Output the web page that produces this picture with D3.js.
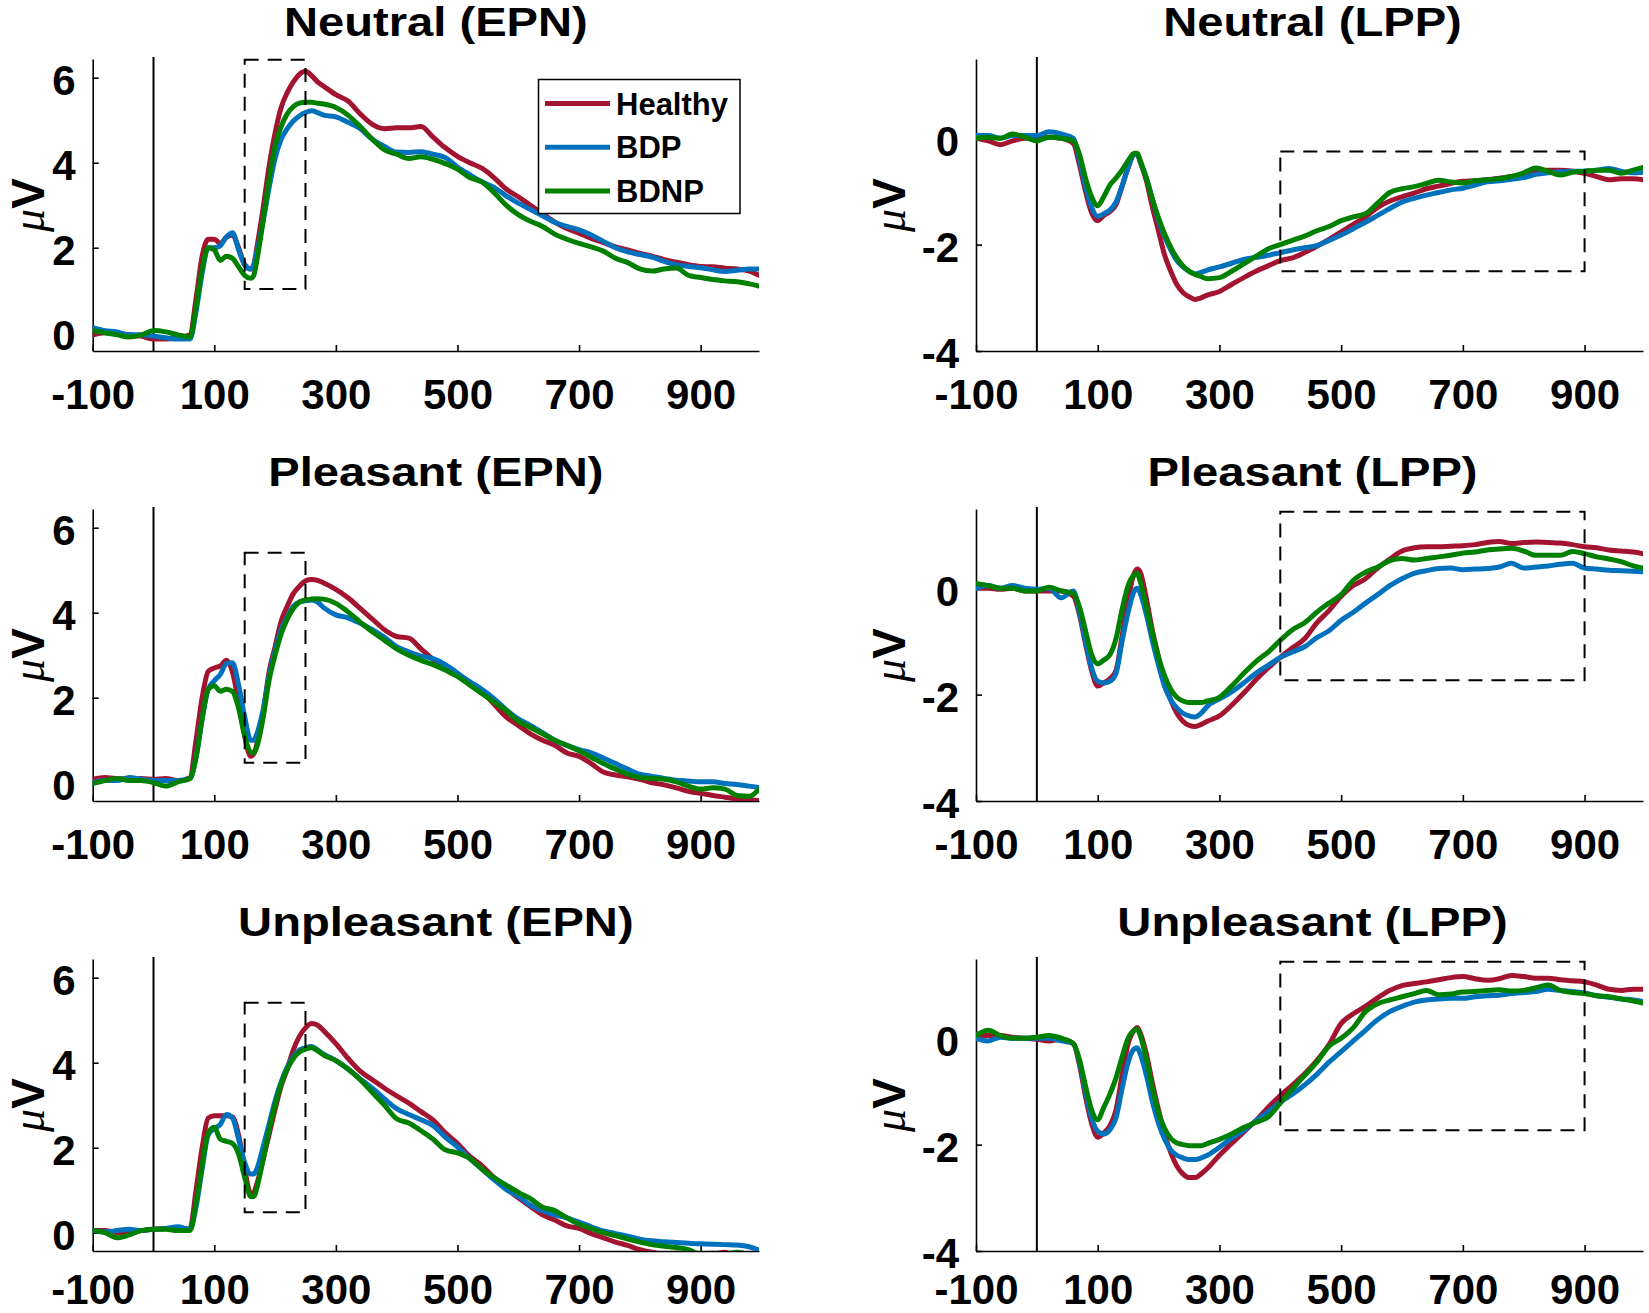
<!DOCTYPE html>
<html><head><meta charset="utf-8">
<script src="https://cdn.jsdelivr.net/npm/d3@7"></script>
<style>
body{margin:0;background:#fff}
svg{display:block;background:#fff}
text{font-family:"Liberation Sans",Arial,Helvetica,sans-serif;font-weight:bold;fill:#000}
.tick text{font-size:42px}
</style>
</head><body>
<svg id="c" width="1649" height="1313"></svg>
<script>
// ---------------- data ----------------
const time = [-100,-80,-60,-40,-20,0,20,40,60,70,80,90,100,110,120,130,140,150,160,165,170,180,190,200,210,220,230,240,250,260,270,280,300,320,340,360,380,400,420,440,460,480,500,520,540,560,580,600,620,640,660,680,700,720,740,760,780,800,820,840,860,880,900,920,940,960,980,996];

const groups = ["Healthy","BDP","BDNP"];
const groupColors = ["#A2142F","#0072BD","#008000"];

const xTickValues = [-100,100,300,500,700,900];
const epnTickValues = [0,2,4,6];
const lppTickValues = [-4,-2,0];
const epnRange = [-0.43, 6.44];
const lppRange = [-4, 1.49];
const timeRange = [-100, 996];

// Neutral (EPN)
const neutralEPN_healthy = [-0.05,0.0,-0.02,-0.05,-0.08,-0.15, -0.15,-0.12,-0.05, 0.8,1.8,2.2,2.2,2.1,2.25,2.3,2.0,1.6,1.5, 1.6, 2.0,2.9,3.9,4.7,5.3,5.65,5.9,6.08,6.15,6.05,5.9,5.8, 5.6,5.45,5.15,4.9,4.8,4.82,4.82,4.85,4.6,4.35, 4.15,4.0,3.87,3.65,3.38,3.2,3.0,2.8,2.6,2.45, 2.34,2.22,2.12,2.02,1.95,1.87,1.8,1.72,1.66,1.6, 1.56,1.55,1.52,1.5,1.45, 1.35];
const neutralEPN_bdp = [0.12,0.05,0.02,-0.05,-0.05,-0.08, -0.12,-0.15,-0.15, 0.5,1.4,2.0,2.0,2.05,2.25,2.35,1.95,1.6,1.5, 1.6, 1.9,2.6,3.4,4.1,4.55,4.8,4.98,5.1,5.18,5.22,5.18,5.12, 5.08,4.95,4.8,4.55,4.38,4.25,4.24,4.26,4.2,4.12, 3.9,3.72,3.55,3.42,3.22,3.05,2.9,2.75,2.6,2.5, 2.42,2.3,2.15,2.0,1.9,1.84,1.78,1.68,1.6,1.56, 1.53,1.48,1.44,1.47,1.5, 1.5];
const neutralEPN_bdnp = [0.05,0.0,-0.05,-0.1,-0.05,0.05, 0.02,-0.05,-0.1, 0.6,1.5,2.0,1.95,1.7,1.8,1.75,1.55,1.35,1.28, 1.35, 1.7,2.6,3.6,4.4,4.85,5.15,5.32,5.4,5.42,5.42,5.4,5.38, 5.3,5.12,4.85,4.55,4.3,4.2,4.1,4.14,4.08,3.98, 3.85,3.65,3.55,3.3,3.0,2.78,2.62,2.5,2.32,2.2, 2.1,2.02,1.92,1.75,1.65,1.5,1.45,1.5,1.52,1.35, 1.3,1.25,1.22,1.2,1.15, 1.1];

// Neutral (LPP)
const neutralLPP_healthy = [0.0,-0.05,-0.12,-0.05,0.0,0.0, 0.02,0.0,-0.1, -0.5,-1.0,-1.4,-1.55,-1.45,-1.38,-1.25,-0.9,-0.55,-0.3, -0.3, -0.45,-0.8,-1.3,-1.75,-2.2,-2.5,-2.75,-2.9,-2.98,-3.03,-3.0,-2.95, -2.88,-2.75,-2.62,-2.5,-2.4,-2.3,-2.25,-2.15,-2.03,-1.9, -1.76,-1.62,-1.48,-1.3,-1.18,-1.1,-1.03,-0.95,-0.9,-0.85, -0.81,-0.8,-0.78,-0.75,-0.72,-0.68,-0.62,-0.6,-0.6,-0.62, -0.66,-0.72,-0.78,-0.76,-0.76, -0.78];
const neutralLPP_bdp = [0.05,0.05,0.0,0.05,0.05,0.05, 0.12,0.08,0.0, -0.4,-0.9,-1.3,-1.47,-1.42,-1.35,-1.2,-0.9,-0.55,-0.3, -0.3, -0.45,-0.75,-1.15,-1.55,-1.85,-2.1,-2.3,-2.42,-2.5,-2.55,-2.52,-2.48, -2.42,-2.35,-2.28,-2.24,-2.2,-2.15,-2.1,-2.06,-2.02,-1.92, -1.82,-1.7,-1.58,-1.45,-1.32,-1.2,-1.13,-1.07,-1.02,-0.97, -0.94,-0.88,-0.82,-0.8,-0.77,-0.74,-0.68,-0.65,-0.63,-0.62, -0.62,-0.6,-0.57,-0.62,-0.65, -0.64];
const neutralLPP_bdnp = [0.0,0.02,0.0,0.08,0.02,-0.05, 0.02,0.0,-0.05, -0.3,-0.75,-1.1,-1.27,-1.1,-0.88,-0.75,-0.6,-0.42,-0.28, -0.28, -0.42,-0.75,-1.15,-1.5,-1.8,-2.05,-2.25,-2.4,-2.5,-2.56,-2.6,-2.64, -2.62,-2.5,-2.36,-2.22,-2.08,-2.0,-1.92,-1.84,-1.74,-1.66, -1.55,-1.48,-1.42,-1.22,-1.02,-0.95,-0.91,-0.85,-0.79,-0.82, -0.84,-0.8,-0.78,-0.76,-0.72,-0.65,-0.56,-0.62,-0.69,-0.64, -0.62,-0.6,-0.6,-0.66,-0.6, -0.55];

// Pleasant (EPN)
const pleasantEPN_healthy = [0.08,0.12,0.1,0.08,0.1,0.08, 0.1,0.05,0.12, 1.0,2.0,2.62,2.7,2.75,2.88,2.6,1.9,1.1,0.62, 0.68, 0.9,1.6,2.6,3.2,3.8,4.15,4.45,4.62,4.75,4.78,4.76,4.7, 4.55,4.35,4.1,3.85,3.6,3.44,3.4,3.15,2.9,2.7, 2.52,2.35,2.15,1.85,1.55,1.35,1.15,1.0,0.88,0.7, 0.62,0.45,0.25,0.18,0.14,0.08,0.0,-0.05,-0.12,-0.2, -0.25,-0.3,-0.34,-0.38,-0.4, -0.42];
const pleasantEPN_bdp = [0.0,0.05,0.05,0.12,0.08,0.05, 0.05,0.05,0.1, 0.6,1.5,2.2,2.4,2.55,2.8,2.82,2.3,1.55,1.0, 1.0, 1.15,1.7,2.5,3.1,3.6,3.9,4.15,4.25,4.28,4.3,4.25,4.12, 3.95,3.88,3.75,3.6,3.42,3.2,3.08,2.98,2.92,2.78, 2.58,2.38,2.2,1.98,1.72,1.5,1.35,1.18,1.0,0.88, 0.78,0.7,0.58,0.45,0.32,0.2,0.15,0.1,0.06,0.04, 0.02,0.02,-0.02,-0.04,-0.08, -0.11];
const pleasantEPN_bdnp = [-0.02,0.05,0.1,0.05,0.05,0.0, -0.08,0.02,0.1, 0.6,1.5,2.2,2.28,2.15,2.2,2.15,1.75,1.1,0.72, 0.7, 0.85,1.5,2.4,3.0,3.5,3.85,4.1,4.25,4.3,4.32,4.33,4.32, 4.22,4.02,3.78,3.55,3.35,3.15,3.0,2.88,2.78,2.65, 2.5,2.3,2.1,1.9,1.7,1.45,1.3,1.15,1.0,0.88, 0.75,0.6,0.45,0.32,0.2,0.12,0.1,0.08,0.02,-0.08, -0.15,-0.12,-0.15,-0.3,-0.32, -0.15];

// Pleasant (LPP)
const pleasantLPP_healthy = [0.0,0.0,-0.02,0.0,-0.05,-0.05, -0.05,-0.05,-0.15, -0.5,-1.05,-1.55,-1.84,-1.78,-1.7,-1.55,-0.9,-0.2,0.28, 0.36, 0.3,-0.2,-0.8,-1.3,-1.75,-2.1,-2.35,-2.5,-2.58,-2.6,-2.56,-2.5, -2.4,-2.2,-1.97,-1.72,-1.5,-1.3,-1.12,-0.95,-0.65,-0.42, -0.15,0.05,0.18,0.38,0.55,0.7,0.76,0.78,0.78,0.79, 0.8,0.82,0.86,0.88,0.84,0.86,0.87,0.86,0.85,0.82, 0.78,0.76,0.72,0.7,0.68, 0.65];
const pleasantLPP_bdp = [0.0,0.05,0.0,0.05,0.0,-0.02, 0.0,-0.18,-0.05, -0.45,-1.0,-1.5,-1.75,-1.78,-1.75,-1.6,-1.0,-0.45,-0.05, 0.0, -0.1,-0.5,-1.0,-1.45,-1.85,-2.1,-2.25,-2.35,-2.4,-2.42,-2.35,-2.22, -2.08,-1.95,-1.78,-1.6,-1.45,-1.3,-1.2,-1.1,-0.93,-0.8, -0.6,-0.45,-0.28,-0.12,0.05,0.18,0.28,0.33,0.37,0.38, 0.35,0.36,0.37,0.4,0.47,0.38,0.4,0.42,0.45,0.47, 0.38,0.36,0.34,0.33,0.32, 0.31];
const pleasantLPP_bdnp = [0.09,0.05,0.0,0.0,-0.05,-0.05, 0.02,-0.05,-0.1, -0.35,-0.8,-1.25,-1.42,-1.35,-1.25,-0.95,-0.4,0.05,0.25, 0.28, 0.12,-0.35,-0.85,-1.3,-1.65,-1.9,-2.05,-2.12,-2.15,-2.15,-2.15,-2.12, -2.05,-1.84,-1.6,-1.38,-1.2,-0.98,-0.78,-0.65,-0.45,-0.28, -0.12,0.15,0.3,0.4,0.52,0.56,0.53,0.56,0.59,0.62, 0.66,0.68,0.72,0.74,0.75,0.7,0.62,0.62,0.62,0.69, 0.65,0.59,0.55,0.5,0.42, 0.38];

// Unpleasant (EPN)
const unpleasantEPN_healthy = [0.05,0.05,0.0,0.02,0.05,0.08, 0.1,0.08,0.1, 1.0,2.0,2.7,2.75,2.75,2.75,2.72,2.3,1.5,0.92, 0.95, 1.15,1.7,2.3,2.9,3.45,3.85,4.3,4.62,4.82,4.92,4.88,4.75, 4.45,4.1,3.8,3.6,3.4,3.22,3.05,2.85,2.65,2.35, 2.1,1.8,1.58,1.3,1.05,0.82,0.62,0.42,0.3,0.16, 0.1,-0.02,-0.12,-0.22,-0.3,-0.4,-0.46,-0.5,-0.48,-0.5, -0.52,-0.5,-0.46,-0.55,-0.55, -0.55];
const unpleasantEPN_bdp = [0.05,0.02,0.05,0.08,0.05,0.08, 0.1,0.14,0.08, 0.6,1.5,2.3,2.45,2.55,2.78,2.7,2.2,1.65,1.38, 1.38, 1.5,2.0,2.55,3.1,3.55,3.9,4.15,4.3,4.35,4.38,4.3,4.2, 4.05,3.85,3.62,3.4,3.15,2.92,2.78,2.66,2.52,2.25, 2.02,1.75,1.5,1.25,1.02,0.86,0.65,0.52,0.42,0.35, 0.25,0.14,0.04,-0.02,-0.08,-0.15,-0.19,-0.21,-0.23,-0.25, -0.26,-0.27,-0.28,-0.29,-0.33, -0.41];
const unpleasantEPN_bdnp = [0.05,0.0,-0.12,-0.05,0.05,0.08, 0.08,0.05,0.05, 0.7,1.6,2.35,2.48,2.2,2.15,2.1,1.85,1.3,0.85, 0.85, 1.05,1.7,2.4,3.0,3.5,3.85,4.1,4.25,4.32,4.35,4.28,4.18, 4.05,3.85,3.6,3.3,3.0,2.68,2.58,2.4,2.2,1.95, 1.88,1.75,1.5,1.3,1.12,0.95,0.8,0.6,0.52,0.35, 0.2,0.1,0.0,-0.07,-0.15,-0.22,-0.28,-0.32,-0.35,-0.4, -0.5,-0.48,-0.5,-0.46,-0.5, -0.5];

// Unpleasant (LPP)
const unpleasantLPP_healthy = [0.06,0.05,0.05,0.02,0.0,-0.02, -0.05,-0.02,-0.1, -0.5,-1.1,-1.6,-1.86,-1.78,-1.65,-1.35,-0.7,-0.1,0.15, 0.2, 0.1,-0.3,-0.85,-1.35,-1.8,-2.15,-2.4,-2.55,-2.62,-2.62,-2.55,-2.45, -2.2,-1.98,-1.76,-1.55,-1.3,-1.08,-0.88,-0.67,-0.42,-0.12, 0.28,0.46,0.6,0.76,0.9,0.99,1.03,1.06,1.1,1.14, 1.16,1.12,1.09,1.12,1.18,1.16,1.13,1.13,1.1,1.08, 1.06,1.0,0.92,0.9,0.92, 0.92];
const unpleasantLPP_bdp = [0.0,-0.05,0.02,0.0,0.0,0.0, 0.0,-0.05,-0.1, -0.45,-1.0,-1.5,-1.75,-1.8,-1.72,-1.5,-0.95,-0.45,-0.2, -0.18, -0.3,-0.7,-1.2,-1.6,-1.9,-2.1,-2.2,-2.25,-2.28,-2.28,-2.25,-2.2, -2.05,-1.88,-1.73,-1.55,-1.38,-1.2,-1.05,-0.88,-0.68,-0.45, -0.25,-0.05,0.15,0.35,0.5,0.6,0.68,0.72,0.74,0.75, 0.75,0.78,0.8,0.81,0.84,0.86,0.88,0.92,0.9,0.88, 0.85,0.8,0.77,0.74,0.72, 0.69];
const unpleasantLPP_bdnp = [0.05,0.15,0.05,0.0,0.0,0.02, 0.05,0.0,-0.1, -0.4,-0.9,-1.35,-1.53,-1.3,-1.05,-0.75,-0.35,0.0,0.15, 0.17, 0.05,-0.4,-0.95,-1.4,-1.7,-1.88,-1.97,-2.0,-2.02,-2.02,-2.02,-1.98, -1.9,-1.8,-1.68,-1.58,-1.48,-1.22,-0.95,-0.7,-0.45,-0.15, 0.0,0.2,0.5,0.65,0.72,0.78,0.84,0.9,0.82,0.83, 0.87,0.88,0.9,0.91,0.89,0.9,0.95,1.0,0.9,0.86, 0.84,0.8,0.78,0.74,0.7, 0.66];

// analysis windows [t0, t1, vLow, vHigh]
const neutralEPN_window = [150, 250, 1.03, 6.42];
const pleasantEPN_window = [150, 250, 0.47, 5.41];
const unpleasantEPN_window = [150, 250, 0.48, 5.41];
const neutralLPP_window = [400, 900, -2.5, -0.25];
const pleasantLPP_window = [400, 900, -1.73, 1.44];
const unpleasantLPP_window = [400, 900, -1.73, 1.44];

const panelTitles = ["Neutral (EPN)","Neutral (LPP)","Pleasant (EPN)","Pleasant (LPP)","Unpleasant (EPN)","Unpleasant (LPP)"];

// ---------------- layout ----------------
const colX = [[92.7, 759], [976, 1643]];
const rowTop = [59, 509, 959];
const rowBottom = [351, 801, 1251];
const xLabelOffset = [58, 58, 53];

const panels = [
  {title: panelTitles[0], yd: epnRange, yt: epnTickValues, series:[neutralEPN_healthy, neutralEPN_bdp, neutralEPN_bdnp], win: neutralEPN_window, legend:true},
  {title: panelTitles[1], yd: lppRange, yt: lppTickValues, series:[neutralLPP_healthy, neutralLPP_bdp, neutralLPP_bdnp], win: neutralLPP_window},
  {title: panelTitles[2], yd: epnRange, yt: epnTickValues, series:[pleasantEPN_healthy, pleasantEPN_bdp, pleasantEPN_bdnp], win: pleasantEPN_window},
  {title: panelTitles[3], yd: lppRange, yt: lppTickValues, series:[pleasantLPP_healthy, pleasantLPP_bdp, pleasantLPP_bdnp], win: pleasantLPP_window},
  {title: panelTitles[4], yd: epnRange, yt: epnTickValues, series:[unpleasantEPN_healthy, unpleasantEPN_bdp, unpleasantEPN_bdnp], win: unpleasantEPN_window},
  {title: panelTitles[5], yd: lppRange, yt: lppTickValues, series:[unpleasantLPP_healthy, unpleasantLPP_bdp, unpleasantLPP_bdnp], win: unpleasantLPP_window},
];

const svg = d3.select("#c");
const defs = svg.append("defs");

panels.forEach((p, i) => {
  const col = i % 2, row = Math.floor(i / 2);
  const x = d3.scaleLinear().domain(timeRange).range(colX[col]);
  const y = d3.scaleLinear().domain(p.yd).range([rowBottom[row], rowTop[row]]);
  const g = svg.append("g");
  const [x0, x1] = x.range();
  const [yb, yt] = y.range();

  defs.append("clipPath").attr("id", "clip" + i).append("rect")
    .attr("x", x0).attr("y", yt).attr("width", x1 - x0).attr("height", yb - yt);

  // title
  const cx = (x0 + x1) / 2 + (col === 0 ? 10 : 3);
  g.append("text").attr("text-anchor", "middle")
    .attr("transform", `translate(${cx},${yt - 23}) scale(1.15,1)`)
    .style("font-size", "41px").text(p.title);

  // y label
  const lx = col === 0 ? 44 : 905;
  const yl = g.append("text").attr("text-anchor", "middle")
    .attr("transform", `translate(${lx},${(yt + yb) / 2}) rotate(-90)`)
    .style("font-size", "46px");
  yl.append("tspan").style("font-family", '"Liberation Serif","Times New Roman",serif')
    .style("font-style", "italic").style("font-weight", "normal").text("\u03bc");
  yl.append("tspan").text("V");

  // axes
  const xAxis = d3.axisBottom(x).tickValues(xTickValues).tickFormat(d => String(d))
    .tickSizeInner(-6).tickSizeOuter(0).tickPadding(0);
  const gx = g.append("g").attr("transform", `translate(0,${yb})`).call(xAxis);
  gx.attr("font-family", null).attr("font-size", null);
  gx.select(".domain").attr("stroke", "#000").attr("stroke-width", 1.6);
  gx.selectAll(".tick line").attr("stroke", "#000").attr("stroke-width", 1.6);
  gx.selectAll(".tick text").attr("dy", null).attr("y", xLabelOffset[row]).attr("fill", "#000");

  const yAxis = d3.axisLeft(y).tickValues(p.yt).tickFormat(d => String(d))
    .tickSizeInner(-6).tickSizeOuter(0).tickPadding(17);
  const gy = g.append("g").attr("transform", `translate(${x0},0)`).call(yAxis);
  gy.attr("font-family", null).attr("font-size", null);
  gy.select(".domain").attr("stroke", "#000").attr("stroke-width", 1.6);
  gy.selectAll(".tick line").attr("stroke", "#000").attr("stroke-width", 1.6);
  gy.selectAll(".tick text").attr("dy", "0.4em").attr("fill", "#000");

  // stimulus onset line
  g.append("line").attr("x1", x(0)).attr("x2", x(0)).attr("y1", yt - 2).attr("y2", yb)
    .attr("stroke", "#000").attr("stroke-width", 2);

  // waveforms
  const line = d3.line().x((d, k) => x(time[k])).y(d => y(d)).curve(d3.curveMonotoneX);
  const lg = g.append("g").attr("clip-path", `url(#clip${i})`);
  p.series.forEach((s, k) => {
    lg.append("path").attr("d", line(s)).attr("fill", "none")
      .attr("stroke", groupColors[k]).attr("stroke-width", 5)
      .attr("stroke-linejoin", "round").attr("stroke-linecap", "round");
  });

  // analysis window
  const w = p.win;
  g.append("rect").attr("x", x(w[0])).attr("y", y(w[3]))
    .attr("width", x(w[1]) - x(w[0])).attr("height", y(w[2]) - y(w[3]))
    .attr("fill", "none").attr("stroke", "#000").attr("stroke-width", 2)
    .attr("stroke-dasharray", "14,9");

  // legend
  if (p.legend) {
    const lgd = g.append("g");
    lgd.append("rect").attr("x", 538.5).attr("y", 79.5).attr("width", 201.5).attr("height", 134)
      .attr("fill", "#fff").attr("stroke", "#000").attr("stroke-width", 1.5);
    groups.forEach((name, k) => {
      const ry = 103.5 + k * 43.7;
      lgd.append("line").attr("x1", 545).attr("x2", 610).attr("y1", ry).attr("y2", ry)
        .attr("stroke", groupColors[k]).attr("stroke-width", 5);
      lgd.append("text").attr("x", 616).attr("y", ry + 11).style("font-size", "31px").text(name);
    });
  }
});
</script>
</body></html>
